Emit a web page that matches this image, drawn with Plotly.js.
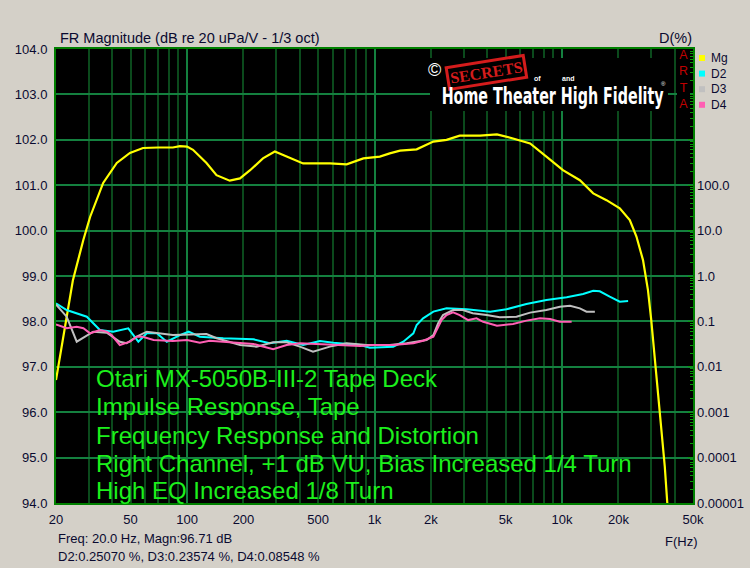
<!DOCTYPE html>
<html>
<head>
<meta charset="utf-8">
<script src="https://cdn.plot.ly/plotly-3.0.1.min.js"></script>
<style>html,body{margin:0;padding:0;background:#d4d0c8;}#chart{width:750px;height:568px;}</style>
</head>
<body>
<div id="chart"></div>
<script>
// ---------- data ----------
const mgFreq = [20, 22.2, 24.6, 28, 30.4, 35.7, 42.2, 49.6, 58.2, 70, 84, 91.6, 100, 107.6, 127, 143.6, 169, 191.6, 217, 254, 294, 340, 416, 578, 710, 872, 1068, 1206, 1368, 1678, 2061, 2423, 2848, 3657, 4500, 5480, 6760, 8260, 10120, 12460, 14680, 17280, 20340, 23000, 24960, 27060, 28760, 29940, 31780, 33740, 35360, 36600];
const mgDb   = [96.71, 97.8, 98.9, 99.8, 100.3, 101.05, 101.49, 101.71, 101.82, 101.83, 101.83, 101.86, 101.85, 101.78, 101.49, 101.22, 101.10, 101.15, 101.33, 101.59, 101.74, 101.63, 101.48, 101.48, 101.46, 101.59, 101.63, 101.70, 101.76, 101.79, 101.96, 102.0, 102.09, 102.09, 102.12, 102.03, 101.92, 101.63, 101.33, 101.11, 100.82, 100.67, 100.49, 100.23, 99.87, 99.35, 98.69, 98.03, 96.86, 95.83, 94.8, 93.9];

const d2Freq = [20, 22.8, 29.2, 34.3, 40.4, 43.8, 48.6, 55, 61, 69, 78, 91.6, 102, 117, 156, 226, 276, 340, 416, 512, 602, 838, 944, 1258, 1368, 1424, 1612, 1678, 1816, 2061, 2423, 3100, 4140, 5060, 6460, 8260, 10600, 12960, 14680, 15920, 17980, 20340, 22540];
const d2Pct  = [0.2507, 0.178, 0.127, 0.0646, 0.0593, 0.0646, 0.0705, 0.0357, 0.0547, 0.0547, 0.0357, 0.05, 0.0593, 0.046, 0.0425, 0.0404, 0.033, 0.0376, 0.0302, 0.037, 0.034, 0.0302, 0.0264, 0.0278, 0.033, 0.0357, 0.0547, 0.0833, 0.117, 0.164, 0.194, 0.185, 0.164, 0.185, 0.241, 0.296, 0.34, 0.402, 0.475, 0.46, 0.35, 0.272, 0.28];

const d3Freq = [20, 22.8, 25.8, 29.2, 31.6, 37.3, 43.8, 47.6, 53.9, 61, 71.8, 84, 127, 144, 192, 235, 288, 340, 400, 470, 578, 710, 906, 1206, 1484, 1896, 2061, 2186, 2320, 2626, 2960, 3340, 3960, 4660, 5720, 6760, 8260, 9740, 11040, 12460, 13520, 14980];
const d3Pct  = [0.2357, 0.127, 0.0357, 0.05, 0.0593, 0.0563, 0.0357, 0.033, 0.046, 0.0593, 0.0547, 0.05, 0.0527, 0.0425, 0.0302, 0.0278, 0.0347, 0.0347, 0.0278, 0.0216, 0.0278, 0.033, 0.0302, 0.0302, 0.033, 0.0389, 0.05, 0.0908, 0.138, 0.178, 0.178, 0.151, 0.138, 0.123, 0.127, 0.156, 0.178, 0.211, 0.22, 0.194, 0.164, 0.164];

const d4Freq = [20, 22.8, 25.8, 28, 30.4, 34.3, 37.3, 39.6, 43.8, 49.6, 53.9, 58, 66.3, 84, 100, 117, 132, 163, 226, 288, 340, 400, 512, 653, 838, 984, 1258, 1612, 1816, 2061, 2140, 2280, 2423, 2626, 2848, 3160, 3500, 3800, 4500, 5480, 6460, 7640, 8640, 9740, 11260];
const d4Pct  = [0.0855, 0.0705, 0.0764, 0.0705, 0.0547, 0.0646, 0.0593, 0.05, 0.0302, 0.0357, 0.046, 0.046, 0.0389, 0.037, 0.0389, 0.034, 0.0376, 0.0347, 0.0318, 0.0243, 0.0302, 0.033, 0.0318, 0.0302, 0.0287, 0.0302, 0.0302, 0.033, 0.0376, 0.046, 0.0646, 0.107, 0.138, 0.158, 0.138, 0.107, 0.117, 0.098, 0.080, 0.0877, 0.104, 0.117, 0.113, 0.098, 0.098];

const xTickVals = [20, 50, 100, 200, 500, 1000, 2000, 5000, 10000, 20000, 50000];
const xTickText = ['20', '50', '100', '200', '500', '1k', '2k', '5k', '10k', '20k', '50k'];
const decadeFreqs = [100, 1000, 10000];
const dTickVals = [1e-5, 1e-4, 1e-3, 1e-2, 1e-1, 1, 10, 100, 1000, 10000, 100000];
const dTickText = ['0.00001', '0.0001', '0.001', '0.01', '0.1', '1.0', '10.0', '100.0', '', '', ''];

const seriesNames = ['Mg', 'D2', 'D3', 'D4'];
const seriesColors = ['#ffff00', '#00ffff', '#c0c0c0', '#ff5fb4'];

const notes = [
  'Otari MX-5050B-III-2 Tape Deck',
  'Impulse Response, Tape',
  'Frequency Response and Distortion',
  'Right Channel, +1 dB VU, Bias Increased 1/4 Turn',
  'High EQ Increased 1/8 Turn'
];
const titleText = 'FR Magnitude (dB re 20 uPa/V - 1/3 oct)';
const rightTitle = 'D(%)';
const xUnit = 'F(Hz)';
const statusLine1 = 'Freq: 20.0 Hz, Magn:96.71 dB';
const statusLine2 = 'D2:0.25070 %, D3:0.23574 %, D4:0.08548 %';
const artaMark = 'ARTA';

// ---------- layout helpers ----------
const W = 750, H = 568, L = 56, R = 57, T = 49, B = 65;
const PW = W - L - R, PH = H - T - B;
const px = x => (x - L) / PW;            // pixel x -> paper
const py = y => (H - B - y) / PH;        // pixel y -> paper

// grid frequencies 1..9 per decade within range
const gridFreqs = [];
for (let dec = 10; dec <= 10000; dec *= 10) {
  for (let k = 1; k <= 9; k++) {
    const f = k * dec;
    if (f >= 20 && f <= 50000) gridFreqs.push(f);
  }
}
const gridText = gridFreqs.map(f => {
  const i = xTickVals.indexOf(f);
  return i >= 0 ? xTickText[i] : '';
});

const xr = [Math.log10(20), Math.log10(50000)];
const labelColor = '#0a0a30';
const FONT = 'Liberation Sans, Arial, sans-serif';

const traces = [
  {x: mgFreq, y: mgDb, xaxis: 'x', yaxis: 'y', mode: 'lines', name: seriesNames[0],
   line: {color: seriesColors[0], width: 2.2}, hoverinfo: 'skip'},
  {x: d2Freq, y: d2Pct, xaxis: 'x2', yaxis: 'y2', mode: 'lines', name: seriesNames[1],
   line: {color: seriesColors[1], width: 2}, hoverinfo: 'skip'},
  {x: d3Freq, y: d3Pct, xaxis: 'x2', yaxis: 'y2', mode: 'lines', name: seriesNames[2],
   line: {color: seriesColors[2], width: 2}, hoverinfo: 'skip'},
  {x: d4Freq, y: d4Pct, xaxis: 'x2', yaxis: 'y2', mode: 'lines', name: seriesNames[3],
   line: {color: seriesColors[3], width: 2}, hoverinfo: 'skip'}
];

const annotations = [];
const shapes = [];

// title and right axis title
annotations.push({xref: 'paper', yref: 'paper', x: px(58), y: py(38), xanchor: 'left', yanchor: 'middle',
  text: titleText, showarrow: false, font: {family: FONT, size: 14.5, color: labelColor}});
annotations.push({xref: 'paper', yref: 'paper', x: px(694), y: py(38), xanchor: 'right', yanchor: 'middle',
  text: rightTitle, showarrow: false, font: {family: FONT, size: 14.5, color: labelColor}});
// bottom texts
annotations.push({xref: 'paper', yref: 'paper', x: px(56), y: py(538), xanchor: 'left', yanchor: 'middle',
  text: statusLine1, showarrow: false, font: {family: FONT, size: 13, color: labelColor}});
annotations.push({xref: 'paper', yref: 'paper', x: px(56), y: py(556), xanchor: 'left', yanchor: 'middle',
  text: statusLine2, showarrow: false, font: {family: FONT, size: 13, color: labelColor}});
annotations.push({xref: 'paper', yref: 'paper', x: px(700), y: py(541), xanchor: 'right', yanchor: 'middle',
  text: xUnit, showarrow: false, font: {family: FONT, size: 13, color: labelColor}});

// legend: colour squares + one multi-line label block
const legY = [58, 73.6, 89.2, 104.8];
seriesNames.forEach((n, i) => {
  shapes.push({type: 'rect', xref: 'paper', yref: 'paper', x0: px(699), x1: px(705),
    y0: py(legY[i] + 3), y1: py(legY[i] - 3), fillcolor: seriesColors[i], line: {width: 0}});
});
annotations.push({xref: 'paper', yref: 'paper', x: px(709), y: py(81.4), xanchor: 'left', yanchor: 'middle', align: 'left',
  text: seriesNames.join('<br>'), showarrow: false, font: {family: FONT, size: 12, color: labelColor}});

// green notes
const noteY = [378, 406, 435, 463, 490];
notes.forEach((t, i) => {
  annotations.push({xref: 'paper', yref: 'paper', x: px(94), y: py(noteY[i]), xanchor: 'left', yanchor: 'middle',
    text: t, showarrow: false, font: {family: FONT, size: 24, color: '#1cf01c'}});
});

// ARTA mark (vertical)
shapes.push({type: 'rect', xref: 'paper', yref: 'paper', x0: px(677), x1: px(690), y0: py(107), y1: py(51),
  fillcolor: '#000000', line: {width: 0}, layer: 'above'});
annotations.push({xref: 'paper', yref: 'paper', x: px(683.5), y: py(80), xanchor: 'center', yanchor: 'middle', align: 'center',
  text: artaMark.split('').join('<br>'), showarrow: false, font: {family: FONT, size: 12.5, color: '#c00000'}});

// logo
shapes.push({type: 'rect', xref: 'paper', yref: 'paper', x0: px(430), x1: px(668), y0: py(111), y1: py(58),
  fillcolor: '#000000', line: {width: 0}, layer: 'above'});
annotations.push({xref: 'paper', yref: 'paper', x: px(434), y: py(70), xanchor: 'center', yanchor: 'middle',
  text: '©', showarrow: false, font: {family: FONT, size: 18, color: '#ffffff'}});
annotations.push({xref: 'paper', yref: 'paper', x: px(486), y: py(73), xanchor: 'center', yanchor: 'middle',
  text: '<b>SECRETS</b>', showarrow: false, textangle: -9, bgcolor: '#000000', bordercolor: '#d41c1c', borderwidth: 3, borderpad: 1,
  font: {family: 'Liberation Serif, serif', size: 16, color: '#d41c1c'}});
annotations.push({xref: 'paper', yref: 'paper', x: px(537), y: py(79), xanchor: 'center', yanchor: 'middle',
  text: '<b>of</b>', showarrow: false, font: {family: FONT, size: 7, color: '#ffffff'}});
annotations.push({xref: 'paper', yref: 'paper', x: px(568), y: py(79), xanchor: 'center', yanchor: 'middle',
  text: '<b>and</b>', showarrow: false, font: {family: FONT, size: 7, color: '#ffffff'}});
annotations.push({xref: 'paper', yref: 'paper', x: px(553), y: py(96), xanchor: 'center', yanchor: 'middle',
  text: '<b>Home Theater High Fidelity</b>', showarrow: false,
  font: {family: 'Liberation Sans Narrow, DejaVu Sans Condensed, sans-serif', size: 23, color: '#ffffff'}});
annotations.push({xref: 'paper', yref: 'paper', x: px(663), y: py(84), xanchor: 'center', yanchor: 'middle',
  text: '®', showarrow: false, font: {family: FONT, size: 6, color: '#ffffff'}});

const layout = {
  width: W, height: H,
  margin: {l: L, r: R, t: T, b: B, pad: 0},
  paper_bgcolor: '#d4d0c8', plot_bgcolor: '#000000',
  showlegend: false,
  font: {family: FONT, size: 13, color: labelColor},
  xaxis: {type: 'log', range: xr, tickmode: 'array', tickvals: gridFreqs, ticktext: gridText,
    showgrid: true, gridcolor: '#0b4a1c', gridwidth: 2, zeroline: false,
    showline: true, mirror: true, linecolor: '#008000', linewidth: 2,
    ticks: '', ticklabelstandoff: 3, tickfont: {family: FONT, size: 13, color: labelColor}},
  xaxis2: {type: 'log', range: xr, overlaying: 'x', anchor: 'y2', side: 'bottom', tickmode: 'array', tickvals: decadeFreqs,
    showticklabels: false, showgrid: true, gridcolor: '#14803f', gridwidth: 2, zeroline: false, showline: false, ticks: ''},
  yaxis: {range: [94, 104], tick0: 94, dtick: 1, tickformat: '.1f',
    showgrid: true, gridcolor: '#14803f', gridwidth: 2, zeroline: false,
    showline: true, mirror: true, linecolor: '#008000', linewidth: 2,
    ticks: '', ticklabelstandoff: 4, tickfont: {family: FONT, size: 13, color: labelColor}},
  yaxis2: {type: 'log', range: [-5, 5], overlaying: 'y', anchor: 'x2', side: 'right',
    tickmode: 'array', tickvals: dTickVals, ticktext: dTickText,
    showgrid: false, zeroline: false, showline: false,
    ticks: 'inside', ticklen: 5, tickwidth: 1, tickcolor: '#0a9a0a', ticklabelstandoff: 3,
    minor: {ticks: 'inside', ticklen: 3, tickwidth: 1, tickcolor: '#0a9a0a', dtick: 'D1'},
    tickfont: {family: FONT, size: 13, color: labelColor}},
  annotations: annotations,
  shapes: shapes
};

Plotly.newPlot('chart', traces, layout, {staticPlot: true, displayModeBar: false}).then(gd => {
  // squeeze the logo wordmark to its width in the original
  const nodes = gd.querySelectorAll('.annotation-text');
  nodes.forEach(n => {
    if (n.textContent === 'Home Theater High Fidelity') {
      n.setAttribute('textLength', '222');
      n.setAttribute('lengthAdjust', 'spacingAndGlyphs');
    }
  });
});
</script>
</body>
</html>
